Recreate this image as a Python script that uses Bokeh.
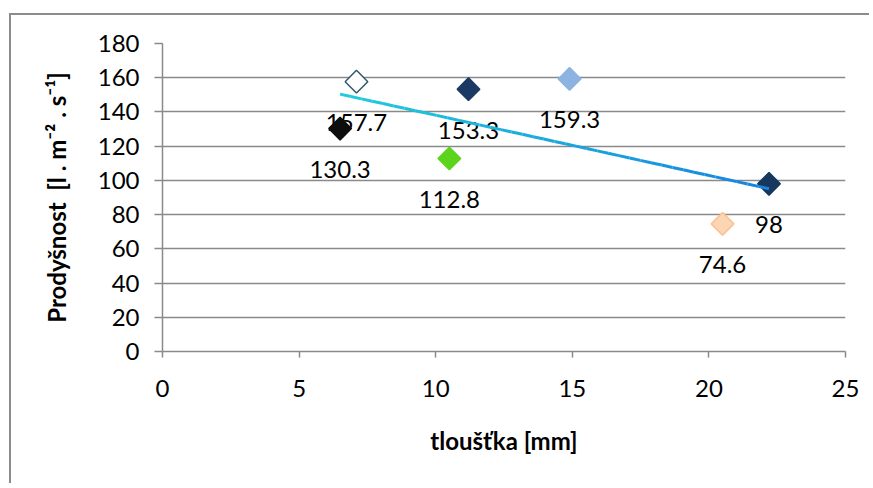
import numpy as np
from bokeh.plotting import figure
from bokeh.models import ColumnDataSource, Range1d, FixedTicker
from bokeh.core.properties import value
from bokeh.embed import file_html
from bokeh.resources import INLINE

# ---- data ----
thickness = [6.5, 7.1, 11.2, 14.9, 10.5, 22.2, 20.5]
permeability = [130.3, 157.7, 153.3, 159.3, 112.8, 98.0, 74.6]
point_labels = ["130.3", "157.7", "153.3", "159.3", "112.8", "98", "74.6"]
fill_colors = ["#0d0d0d", "#ffffff", "#1b3a63", "#8db3e2", "#5cd41b", "#17375e", "#fcd5b5"]
line_colors = ["#0d0d0d", "#31596b", "#1b3a63", "#8db3e2", "#5cd41b", "#17375e", "#fac090"]
x_ticks = [0, 5, 10, 15, 20, 25]
y_ticks = [0, 20, 40, 60, 80, 100, 120, 140, 160, 180]
x_title = "tloušťka [mm]"
y_title = "Prodyšnost\u00a0 [l . m\u207b\u00b2 . s\u207b\u00b9]"

FONT = "Lato"
GRID = "#8a8a8a"

p = figure(width=860, height=470, output_backend="svg", toolbar_location=None,
           x_range=Range1d(0, 25), y_range=Range1d(0, 180),
           min_border_left=151, min_border_top=28, min_border_right=26, min_border_bottom=134)
p.margin = (13, 0, 0, 9)
p.styles = {"border-top": "2px solid #8c8c8c", "border-left": "2px solid #8c8c8c"}
p.outline_line_color = None
p.background_fill_color = "white"
p.border_fill_color = "white"

p.xgrid.visible = False
p.ygrid.ticker = FixedTicker(ticks=y_ticks)
p.ygrid.grid_line_color = GRID
p.ygrid.grid_line_width = 1.5

p.xaxis.ticker = FixedTicker(ticks=x_ticks)
p.yaxis.ticker = FixedTicker(ticks=y_ticks)
for ax in (p.xaxis, p.yaxis):
    ax.axis_line_color = GRID
    ax.axis_line_width = 1.5
    ax.major_tick_line_color = GRID
    ax.major_tick_line_width = 1.5
    ax.major_tick_in = 0
    ax.minor_tick_line_color = None
    ax.major_label_text_font = FONT
    ax.major_label_text_font_size = "24px"
    ax.major_label_text_color = "black"
    ax.axis_label_text_font = FONT
    ax.axis_label_text_font_size = "24px"
    ax.axis_label_text_font_style = "bold"
    ax.axis_label_text_color = "black"
p.xaxis.major_tick_out = 6
p.yaxis.major_tick_out = 8
p.xaxis.major_label_standoff = 22
p.yaxis.major_label_standoff = 15
p.xaxis.axis_label = x_title
p.yaxis.axis_label = y_title
p.xaxis.axis_label_standoff = 26
p.yaxis.axis_label_standoff = 24

src = ColumnDataSource(dict(x=thickness, y=permeability, lab=point_labels,
                            fc=fill_colors, lc=line_colors))

p.text(x="x", y="y", text="lab", source=src, text_align="center", text_baseline="middle",
       y_offset=41, text_font=value(FONT), text_font_size="24px", text_color="black")
p.scatter(x="x", y="y", source=src, marker="square", size=16, angle=np.pi / 4,
          fill_color="fc", line_color="lc", line_width=1.5)

# linear trend line (least squares) with a cyan-to-blue gradient
slope, intercept = np.polyfit(thickness, permeability, 1)
n = 40
xs = np.linspace(min(thickness), max(thickness), n + 1)
ys = slope * xs + intercept
c0 = np.array([0x20, 0xcc, 0xdc])
c1 = np.array([0x16, 0x84, 0xe0])
seg_x, seg_y, seg_c = [], [], []
for i in range(n):
    t = i / (n - 1)
    c = (c0 * (1 - t) + c1 * t).astype(int)
    seg_x.append([xs[i], xs[i + 1]])
    seg_y.append([ys[i], ys[i + 1]])
    seg_c.append("#%02x%02x%02x" % tuple(c))
p.multi_line(xs=seg_x, ys=seg_y, line_color=seg_c, line_width=3)

open("out.html", "w").write(file_html(p, INLINE))
